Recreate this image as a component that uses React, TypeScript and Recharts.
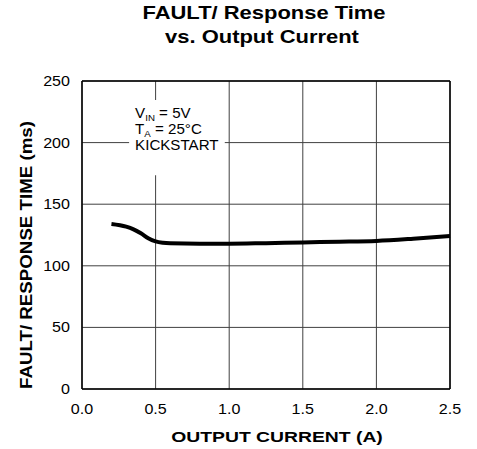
import { LineChart, Line, XAxis, YAxis, CartesianGrid, ReferenceArea, ReferenceLine, Customized } from 'recharts';

const current = [0.2, 0.3, 0.35, 0.4, 0.45, 0.5, 0.55, 0.6, 0.8, 1.0, 1.25, 1.5, 1.75, 2.0, 2.25, 2.5];
const responseMs = [134, 131.8, 129.6, 126.4, 122.4, 119.8, 118.7, 118.3, 117.9, 117.9, 118.4, 119.0, 119.5, 120.2, 122.0, 124.2];
const xTicks = [0, 0.5, 1.0, 1.5, 2.0, 2.5];
const yTicks = [0, 50, 100, 150, 200, 250];

const title = ['FAULT/ Response Time', 'vs. Output Current'];
const xTitle = 'OUTPUT CURRENT (A)';
const yTitle = 'FAULT/ RESPONSE TIME (ms)';

const rows = current.map((c, i) => ({ current: c, ms: responseMs[i] }));

const FONT = '"Liberation Sans", Arial, sans-serif';

function ST({ x, y, sx = 1.2, anchor = 'middle', size = 14, bold = false, rotate = false, children }: any) {
  return (
    <text
      transform={`translate(${x},${y})${rotate ? ' rotate(-90)' : ''} scale(${sx},1)`}
      textAnchor={anchor}
      fontSize={size}
      fontWeight={bold ? 'bold' : 'normal'}
      fontFamily={FONT}
      fill="#000"
    >
      {children}
    </text>
  );
}

const XTick = (p: any) => (
  <ST x={p.x} y={p.y + 25} sx={1.15} size={14}>{Number(p.payload.value).toFixed(1)}</ST>
);
const YTick = (p: any) => (
  <ST x={p.x - 12} y={p.y + 5} sx={1.15} size={14} anchor="end">{p.payload.value}</ST>
);

function Titles() {
  return (
    <g>
      <ST x={264} y={19} size={18} sx={1.22} bold>{title[0]}</ST>
      <ST x={262} y={43} size={18} sx={1.22} bold>{title[1]}</ST>
      <ST x={277} y={442} size={15} sx={1.29} bold>{xTitle}</ST>
      <ST x={31.5} y={255} size={16} sx={1.17} bold rotate>{yTitle}</ST>
    </g>
  );
}

function Note(p: any) {
  const vb = p.viewBox || {};
  const x = vb.x + 6;
  const y = vb.y;
  return (
    <text fontFamily={FONT} fontSize={14} fill="#000" transform={`translate(${x},${y}) scale(1.08,1)`}>
      <tspan x={0} y={17.7}>V<tspan fontSize={9} dy={3}>IN</tspan><tspan dy={-3}> = 5V</tspan></tspan>
      <tspan x={0} y={34.3}>T<tspan fontSize={9} dy={3}>A</tspan><tspan dy={-3}> = 25°C</tspan></tspan>
      <tspan x={0} y={50}>KICKSTART</tspan>
    </text>
  );
}

export default function App() {
  return (
    <div style={{ position: 'absolute', left: 0, top: 0 }}>
      <LineChart width={477} height={449} data={rows} margin={{ top: 81, right: 27, bottom: 0, left: 0 }}>
        <CartesianGrid stroke="#404040" strokeWidth={1} />
        <XAxis
          dataKey="current"
          type="number"
          domain={[0, 2.5]}
          ticks={xTicks}
          height={60}
          tickSize={0}
          tickMargin={0}
          tickLine={false}
          axisLine={{ stroke: '#000', strokeWidth: 1.5 }}
          tick={XTick}
          interval={0}
        />
        <YAxis
          type="number"
          domain={[0, 250]}
          ticks={yTicks}
          width={82}
          tickSize={0}
          tickMargin={0}
          tickLine={false}
          axisLine={{ stroke: '#000', strokeWidth: 1.5 }}
          tick={YTick}
          interval={0}
        />
        <ReferenceLine x={2.5} stroke="#000" strokeWidth={1.5} />
        <ReferenceLine y={250} stroke="#000" strokeWidth={1.5} />
        <ReferenceArea x1={0.32} x2={0.97} y1={173.5} y2={234.5} fill="#fff" fillOpacity={1} stroke="none" label={Note} />
        <Line
          type="monotone"
          dataKey="ms"
          stroke="#000"
          strokeWidth={4}
          dot={false}
          activeDot={false}
          isAnimationActive={false}
        />
        <Customized component={Titles} />
      </LineChart>
    </div>
  );
}
